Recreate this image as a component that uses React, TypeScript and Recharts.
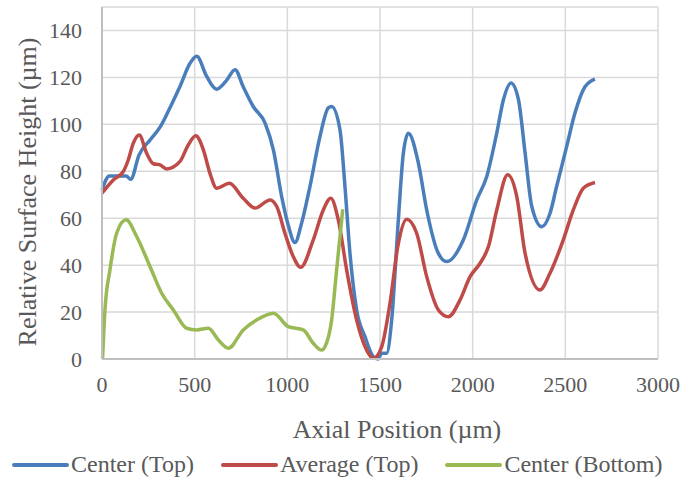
import React from "react";
import { LineChart, Line, XAxis, YAxis, CartesianGrid } from "recharts";

// Center (Top)
const centerTopX = [0, 40, 90, 130, 155, 200, 260, 315, 370, 420, 475, 511, 565, 619, 670, 718, 762, 816, 880, 925, 970, 1005, 1041, 1077, 1122, 1176, 1221, 1239, 1284, 1311, 1338, 1374, 1419, 1464, 1490, 1509, 1536, 1563, 1599, 1626, 1653, 1707, 1752, 1815, 1860, 1950, 2022, 2076, 2130, 2166, 2207, 2247, 2283, 2319, 2373, 2417, 2453, 2507, 2552, 2606, 2660];
const centerTopY = [72, 78, 78, 78, 76.6, 87, 93.4, 99, 107.6, 116, 126, 129, 120.4, 115, 118.5, 123.3, 116, 107.6, 100.5, 89, 69, 57, 49.6, 57.9, 73.5, 94.8, 107, 107.6, 97.7, 73.5, 45, 20.9, 9.5, 1, 0, 2.4, 2.4, 16.6, 59.3, 87.7, 96.2, 83.5, 63.5, 45, 41.5, 50.8, 67.8, 77.8, 96.3, 110.5, 117.6, 110.5, 87.7, 65, 56.4, 62, 73.5, 90.5, 104.8, 116, 119.3];

// Average (Top)
const avgTopX = [0, 61, 115, 142, 169, 201, 241, 277, 313, 349, 421, 466, 506, 547, 583, 619, 687, 762, 826, 907, 943, 987, 1030, 1072, 1140, 1194, 1234, 1275, 1320, 1374, 1428, 1464, 1509, 1554, 1599, 1644, 1698, 1752, 1815, 1869, 1932, 1986, 2040, 2085, 2130, 2189, 2238, 2283, 2363, 2417, 2489, 2543, 2597, 2660];
const avgTopY = [70.7, 76.3, 79.9, 84.9, 92, 95.5, 87.7, 83.2, 82.7, 81, 84.2, 91.3, 95.1, 89.1, 79, 72.8, 74.9, 68.5, 64.3, 67.8, 65, 53.6, 44, 39.1, 50.8, 63.5, 68.5, 59.3, 38, 16.6, 3.8, 0.3, 5.2, 23.8, 49.3, 59.6, 53.6, 35.1, 20.9, 18, 25.2, 35.1, 40.8, 47.9, 63.5, 78.5, 69.2, 45, 29.4, 36.5, 50.8, 63.5, 72.8, 75.2];

// Center (Bottom)
const centerBottomX = [3, 16, 43, 79, 130, 187, 259, 322, 385, 457, 511, 574, 628, 682, 762, 834, 925, 1005, 1086, 1140, 1185, 1203, 1239, 1266, 1299];
const centerBottomY = [0, 20.9, 38, 53.6, 59.3, 52.2, 39.4, 28, 20.9, 13.1, 12.4, 13.1, 8.1, 4.6, 12.4, 16.6, 19.5, 13.8, 12.4, 6.7, 3.8, 5.2, 16.6, 38, 63.8];

const xTicks = [0, 500, 1000, 1500, 2000, 2500, 3000];
const yTicks = [0, 20, 40, 60, 80, 100, 120, 140];

const toPoints = (xs: number[], ys: number[]) => xs.map((x, i) => ({ x, y: ys[i] }));

const series = [
  { name: "Center (Top)", color: "#4a7ebb", data: toPoints(centerTopX, centerTopY) },
  { name: "Average (Top)", color: "#be4b48", data: toPoints(avgTopX, avgTopY) },
  { name: "Center (Bottom)", color: "#98b954", data: toPoints(centerBottomX, centerBottomY) },
];

const FONT = '"Liberation Serif", "Times New Roman", serif';
const TEXT = "#595959";

export default function App() {
  return (
    <div style={{ position: "absolute", left: 0, top: 0, width: 683, height: 482, background: "#fff", fontFamily: FONT }}>
      <LineChart width={683} height={482} margin={{ top: 7, right: 25, bottom: 83, left: 0 }}>
        <CartesianGrid stroke="#d9d9d9" strokeWidth={1.5} />
        <XAxis
          type="number"
          dataKey="x"
          domain={[0, 3000]}
          ticks={xTicks}
          interval={0}
          height={40}
          tickLine={false}
          tickMargin={11}
          axisLine={{ stroke: "#bfbfbf", strokeWidth: 2 }}
          tick={{ fill: TEXT, fontSize: 22, fontFamily: FONT }}
        />
        <YAxis
          type="number"
          domain={[0, 150]}
          ticks={yTicks}
          interval={0}
          width={102}
          tickLine={false}
          tickMargin={14}
          axisLine={{ stroke: "#bfbfbf", strokeWidth: 2 }}
          tick={{ fill: TEXT, fontSize: 22, fontFamily: FONT }}
        />
        {series.map((s) => (
          <Line
            key={s.name}
            data={s.data}
            dataKey="y"
            name={s.name}
            type="monotone"
            stroke={s.color}
            strokeWidth={3.5}
            dot={false}
            activeDot={false}
            isAnimationActive={false}
          />
        ))}
      </LineChart>

      {/* axis titles */}
      <div
        style={{
          position: "absolute",
          left: 28,
          top: 192,
          transform: "translate(-50%, -50%) rotate(-90deg)",
          whiteSpace: "nowrap",
          fontSize: 26,
          color: TEXT,
        }}
      >
        Relative Surface Height (µm)
      </div>
      <div
        style={{
          position: "absolute",
          left: 397,
          top: 430,
          transform: "translate(-50%, -50%)",
          whiteSpace: "nowrap",
          fontSize: 26,
          color: TEXT,
        }}
      >
        Axial Position (µm)
      </div>

      {/* legend */}
      <div style={{ position: "absolute", left: 12, top: 451, display: "flex", alignItems: "center", whiteSpace: "nowrap" }}>
        {series.map((s, i) => (
          <div key={s.name} style={{ display: "flex", alignItems: "center", marginLeft: i === 0 ? 0 : 27 }}>
            <span style={{ display: "inline-block", width: 57, height: 4, background: s.color, borderRadius: 2, marginRight: 2 }} />
            <span style={{ fontSize: 24, color: TEXT }}>{s.name}</span>
          </div>
        ))}
      </div>
    </div>
  );
}
